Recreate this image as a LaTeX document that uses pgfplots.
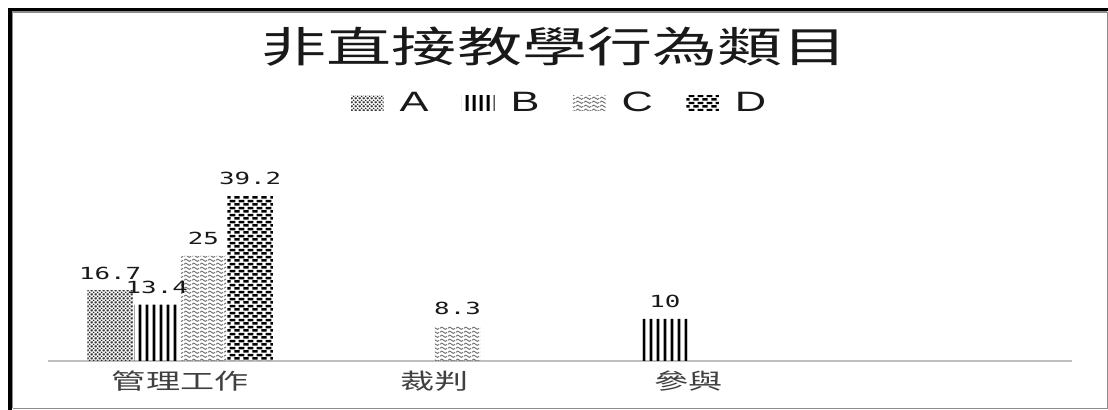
\documentclass[border=0pt]{standalone}
\usepackage{pgfplots}
\pgfplotsset{compat=1.18}
\usetikzlibrary{patterns}
\usepackage{fontspec}
\newfontfamily\cjk[FakeStretch=1.55]{Noto Sans CJK TC}
\newfontfamily\numf[FakeStretch=1.55]{DejaVu Sans Mono}
\newfontfamily\legf[FakeStretch=1.55]{Liberation Sans}

\newcommand\dia[2]{%
  \pgfpathmoveto{\pgfpoint{#1pt-0.8pt}{#2pt}}%
  \pgfpathlineto{\pgfpoint{#1pt}{#2pt+0.7pt}}%
  \pgfpathlineto{\pgfpoint{#1pt+0.8pt}{#2pt}}%
  \pgfpathlineto{\pgfpoint{#1pt}{#2pt-0.7pt}}%
  \pgfpathclose}
\pgfdeclarepatternformonly{pA}{\pgfqpoint{0pt}{0pt}}{\pgfqpoint{3pt}{3pt}}{\pgfqpoint{3pt}{3pt}}{%
  \dia{1.5}{1.5}\dia{0}{0}\dia{3}{0}\dia{0}{3}\dia{3}{3}%
  \pgfusepath{fill}}
\pgfdeclarepatternformonly{pB}{\pgfqpoint{0pt}{0pt}}{\pgfqpoint{4.9pt}{1pt}}{\pgfqpoint{4.9pt}{1pt}}{%
  \pgfpathrectangle{\pgfqpoint{1.3pt}{0pt}}{\pgfqpoint{2.3pt}{1pt}}%
  \pgfusepath{fill}}
\pgfdeclarepatternformonly{pC}{\pgfqpoint{0pt}{0pt}}{\pgfqpoint{6pt}{2.8pt}}{\pgfqpoint{6pt}{2.8pt}}{%
  \pgfsetlinewidth{0.75pt}%
  \pgfpathmoveto{\pgfqpoint{0pt}{1.4pt}}%
  \pgfpathcurveto{\pgfqpoint{1.5pt}{2.6pt}}{\pgfqpoint{1.5pt}{2.6pt}}{\pgfqpoint{3pt}{1.4pt}}%
  \pgfpathcurveto{\pgfqpoint{4.5pt}{0.2pt}}{\pgfqpoint{4.5pt}{0.2pt}}{\pgfqpoint{6pt}{1.4pt}}%
  \pgfusepath{stroke}}
\pgfdeclarepatternformonly{pD}{\pgfqpoint{0pt}{0pt}}{\pgfqpoint{6.75pt}{5.4pt}}{\pgfqpoint{6.75pt}{5.4pt}}{%
  \pgfpathrectangle{\pgfqpoint{0.4pt}{0.4pt}}{\pgfqpoint{4.1pt}{2.0pt}}%
  \pgfpathrectangle{\pgfqpoint{3.775pt}{3.1pt}}{\pgfqpoint{4.1pt}{2.0pt}}%
  \pgfpathrectangle{\pgfqpoint{-2.975pt}{3.1pt}}{\pgfqpoint{4.1pt}{2.0pt}}%
  \pgfusepath{fill}}

\begin{document}
\begin{tikzpicture}
\useasboundingbox (-36pt,-36.75pt) rectangle (795pt,270.75pt);
\fill[white] (-36pt,-36.75pt) rectangle (795pt,270.75pt);
\begin{axis}[
  at={(0pt,0pt)}, anchor=south west,
  scale only axis, width=768pt, height=142pt,
  ymin=0, ymax=45, xmin=-0.52, xmax=3.51,
  ybar=1pt, bar width=34pt,
  axis y line=none, axis x line*=bottom,
  x axis line style={draw=black!25, line width=0.8pt, -},
  xtick={0,1,2,3}, xticklabels={管理工作,裁判,參與,{}},
  major tick length=0pt,
  xticklabel style={font=\cjk\fontsize{16.5}{18}\selectfont, text=black!75, yshift=-4pt},
  ytick=\empty,
  nodes near coords,
  nodes near coords style={font=\numf\fontsize{12.5}{14}\selectfont, text=black!90,
    /pgf/number format/assume math mode=true, yshift=5pt},
  legend columns=4,
  legend style={at={(0.5,1.363)}, anchor=center, draw=none, fill=none,
    font=\legf\fontsize{21}{24}\selectfont, text=black!90,
    /tikz/every odd column/.append style={column sep=10pt},
    /tikz/every even column/.append style={column sep=23pt}},
  legend image code/.code={\path[#1,draw=none] (0pt,-5.4pt) rectangle (24.5pt,5.4pt);},
]
\addplot[pattern=pA, pattern color=black!85, draw=none] coordinates {(0,16.7)};
\addplot[pattern=pB, pattern color=black, draw=none] coordinates {(0,13.4) (2,10)};
\addplot[pattern=pC, pattern color=black!55, draw=none] coordinates {(0,25) (1,8.3)};
\addplot[pattern=pD, pattern color=black, draw=none] coordinates {(0,39.2)};
\legend{A,B,C,D}
\end{axis}
\node[font=\cjk\fontsize{31.5}{34}\selectfont, text=black!90] at (380pt,235.5pt) {非直接教學行為類目};
\draw[black!45, line width=0.8pt] (-26.5pt,-35.4pt) -- (794.4pt,-35.4pt) -- (794.4pt,262pt);
\draw[black!45, line width=1pt] (-26.8pt,-35.4pt) -- (-26.8pt,261.8pt) -- (794.4pt,261.8pt);
\draw[black, line width=2.6pt] (-28.6pt,-36.75pt) -- (-28.6pt,263.5pt) -- (795pt,263.5pt);
\end{tikzpicture}
\end{document}
